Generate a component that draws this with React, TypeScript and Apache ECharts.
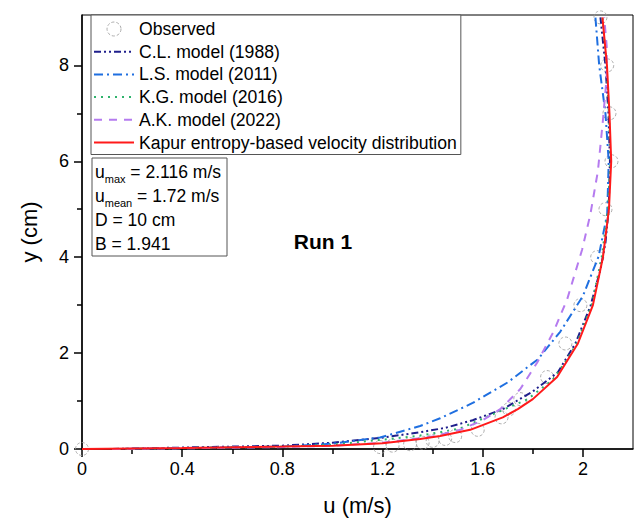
import React, { useEffect, useRef } from "react";
import * as echarts from "echarts";

const FONT = "'Liberation Sans', Arial, sans-serif";

// Observed velocity profile
const uObs = [0, 1.19, 1.24, 1.31, 1.36, 1.40, 1.45, 1.49, 1.58, 1.675, 1.705, 1.75, 1.857, 1.93, 1.99, 2.057, 2.09, 2.114, 2.106, 2.097, 2.07];
const yObs = [0, 0.04, 0.07, 0.10, 0.13, 0.17, 0.21, 0.27, 0.40, 0.66, 0.83, 1.04, 1.50, 2.20, 3.00, 4.00, 5.00, 6.00, 7.00, 8.00, 9.00];

// C.L. model (1988)
const uCL = [0.12, 0.4, 0.8, 1.0, 1.19, 1.35, 1.45, 1.56, 1.68, 1.80, 1.90, 1.97, 2.03, 2.07, 2.09, 2.103, 2.108, 2.102, 2.09, 2.07];
const yCL = [0, 0.03, 0.07, 0.13, 0.23, 0.35, 0.44, 0.60, 0.83, 1.20, 1.60, 2.20, 2.98, 3.74, 4.30, 5.00, 6.00, 7.00, 8.00, 9.00];

// L.S. model (2011)
const uLS = [0.12, 0.4, 0.8, 1.0, 1.19, 1.35, 1.43, 1.56, 1.70, 1.82, 1.91, 2.0, 2.063, 2.097, 2.103, 2.09, 2.065, 2.05];
const yLS = [0, 0.02, 0.05, 0.11, 0.24, 0.48, 0.64, 0.96, 1.39, 1.87, 2.45, 3.19, 4.02, 4.90, 6.00, 7.00, 8.00, 9.00];

// K.G. model (2016)
const uKG = [0.12, 0.4, 0.8, 1.0, 1.19, 1.35, 1.43, 1.51, 1.63, 1.78, 1.88, 1.937, 1.975, 2.035, 2.075, 2.1, 2.11, 2.104, 2.094, 2.078];
const yKG = [0, 0.02, 0.05, 0.09, 0.19, 0.28, 0.35, 0.43, 0.70, 1.04, 1.45, 1.87, 2.20, 3.00, 4.00, 5.00, 6.00, 7.00, 8.00, 9.00];

// A.K. model (2022)
const uAK = [0.12, 0.4, 0.8, 1.0, 1.2, 1.4, 1.51, 1.6, 1.67, 1.75, 1.817, 1.883, 1.937, 1.997, 2.03, 2.06, 2.08, 2.095, 2.095, 2.085];
const yAK = [0, 0.015, 0.04, 0.07, 0.13, 0.26, 0.40, 0.60, 0.83, 1.25, 1.80, 2.45, 3.12, 4.16, 4.90, 5.80, 6.86, 7.76, 8.40, 9.00];

// Kapur entropy-based velocity distribution
const uKE = [0, 0.4, 0.8, 1.0, 1.2, 1.35, 1.43, 1.55, 1.68, 1.74, 1.80, 1.897, 1.98, 2.04, 2.08, 2.104, 2.113, 2.106, 2.096, 2.078];
const yKE = [0, 0.02, 0.05, 0.07, 0.12, 0.21, 0.27, 0.40, 0.66, 0.83, 1.04, 1.50, 2.20, 3.00, 4.00, 5.00, 6.00, 7.00, 8.00, 9.00];

const xMajor = [0, 0.4, 0.8, 1.2, 1.6, 2.0];
const xMinor = [0.2, 0.6, 1.0, 1.4, 1.8];
const yMajor = [0, 2, 4, 6, 8];
const yMinor = [1, 3, 5, 7];

const names = [
  "Observed",
  "C.L. model (1988)",
  "L.S. model (2011)",
  "K.G. model (2016)",
  "A.K. model (2022)",
  "Kapur entropy-based velocity distribution",
];

const zip = (u: number[], y: number[]) => u.map((v, i) => [v, y[i]]);

export default function App() {
  const ref = useRef<HTMLDivElement>(null);
  useEffect(() => {
    if (!ref.current) return;
    const chart = echarts.init(ref.current, undefined, { renderer: "svg" });
    const axisLineStyle = { color: "#000", width: 1.5 };
    const fmt = (v: number) => String(Math.round(v * 10) / 10);
    const lineSeries = (name: string, u: number[], y: number[], color: string, type: any, width = 2) => ({
      name,
      type: "line",
      data: zip(u, y),
      symbol: "none",
      smooth: false,
      lineStyle: { color, width, type },
      itemStyle: { color: "rgba(0,0,0,0)", opacity: 0 },
    });
    const obsItemStyle = { color: "rgba(255,255,255,0)", borderColor: "#9a9a9a", borderWidth: 1, borderType: [3, 2] };
    chart.setOption({
      animation: false,
      backgroundColor: "#fff",
      grid: { left: 82, top: 15, width: 551, height: 435, show: true, borderColor: "#000", borderWidth: 1, backgroundColor: "transparent" },
      xAxis: [
        {
          type: "value", min: 0, max: 2.2,
          axisLine: { show: true, onZero: false, lineStyle: axisLineStyle },
          axisTick: { show: true, inside: false, length: 8, customValues: xMajor, lineStyle: axisLineStyle },
          axisLabel: { customValues: xMajor, formatter: fmt, fontSize: 18, margin: 11, color: "#000", fontFamily: FONT },
          splitLine: { show: false },
          name: "u (m/s)", nameLocation: "middle", nameGap: 45,
          nameTextStyle: { fontSize: 22, color: "#000", fontFamily: FONT },
        },
        {
          type: "value", min: 0, max: 2.2, position: "bottom",
          axisLine: { show: false },
          axisTick: { show: true, inside: false, length: 5, customValues: xMinor, lineStyle: axisLineStyle },
          axisLabel: { show: false },
          splitLine: { show: false },
        },
      ],
      yAxis: [
        {
          type: "value", min: 0, max: 9.05,
          axisLine: { show: true, onZero: false, lineStyle: axisLineStyle },
          axisTick: { show: true, inside: false, length: 8, customValues: yMajor, lineStyle: axisLineStyle },
          axisLabel: { customValues: yMajor, formatter: fmt, fontSize: 18, margin: 13, color: "#000", fontFamily: FONT },
          splitLine: { show: false },
          name: "y (cm)", nameLocation: "middle", nameGap: 42, nameRotate: 90,
          nameTextStyle: { fontSize: 22, color: "#000", fontFamily: FONT },
        },
        {
          type: "value", min: 0, max: 9.05, position: "left",
          axisLine: { show: false },
          axisTick: { show: true, inside: false, length: 5, customValues: yMinor, lineStyle: axisLineStyle },
          axisLabel: { show: false },
          splitLine: { show: false },
        },
      ],
      legend: {
        orient: "vertical", left: 91, top: 15,
        itemWidth: 40, itemHeight: 14, itemGap: 4.7,
        padding: [5, 4, 3, 2],
        backgroundColor: "#fff", borderColor: "#555", borderWidth: 1,
        textStyle: { fontSize: 17.6, lineHeight: 17, color: "#000", fontFamily: FONT },
        data: [
          { name: names[0], itemStyle: obsItemStyle },
          ...names.slice(1).map((n) => ({ name: n, itemStyle: { opacity: 0, color: "rgba(0,0,0,0)" } })),
        ],
        selectedMode: false,
      },
      series: [
        {
          name: names[0], type: "scatter", data: zip(uObs, yObs),
          symbol: "circle", symbolSize: 13,
          itemStyle: obsItemStyle,
        },
        lineSeries(names[1], uCL, yCL, "#1f1f8c", [7, 3, 2, 3, 2, 3]),
        lineSeries(names[2], uLS, yLS, "#1f6fe0", [9, 4, 2, 4]),
        lineSeries(names[3], uKG, yKG, "#2fb36c", [2, 5]),
        lineSeries(names[4], uAK, yAK, "#b57bef", [8, 7]),
        lineSeries(names[5], uKE, yKE, "#ff1a1a", "solid", 2),
      ],
      graphic: [
        { type: "rect", shape: { x: 92, y: 158, width: 135, height: 98 }, style: { fill: "#fff", stroke: "#555", lineWidth: 1 }, z: 100 },
        {
          type: "text", x: 95, y: 160, z: 101,
          style: {
            text: "{a|u}{s|max}{a| = 2.116 m/s}\n{a|u}{s|mean}{a| = 1.72 m/s}\n{a|D = 10 cm}\n{a|B = 1.941}",
            rich: {
              a: { fontSize: 17.5, lineHeight: 24, fontFamily: FONT, fill: "#000" },
              s: { fontSize: 11, verticalAlign: "bottom", fontFamily: FONT, fill: "#000" },
            },
            fill: "#000",
          },
        },
        {
          type: "text", x: 323, y: 241, z: 101,
          style: { text: "Run 1", font: `bold 21px ${FONT}`, fill: "#000", align: "center", verticalAlign: "middle", textAlign: "center", textVerticalAlign: "middle" },
        },
      ],
    });
    return () => chart.dispose();
  }, []);
  return <div ref={ref} style={{ position: "fixed", left: 0, top: 0, width: 636, height: 521 }} />;
}
